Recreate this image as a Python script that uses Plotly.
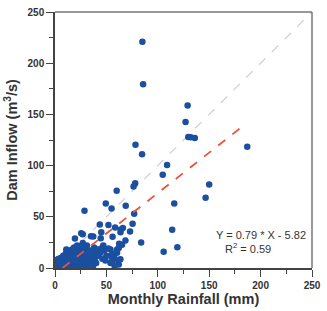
import plotly.graph_objects as go

# Monthly rainfall (mm) and dam inflow (m3/s)
rainfall = [85, 85.7, 129, 127, 129.6, 132, 136, 187, 78.3, 84.7, 109, 104.8, 78, 76.4, 150, 146.5,
            60, 116, 49.4, 68.8, 55, 28.7, 77, 75.5, 43.6, 52, 58.5, 64, 63.7, 73, 45, 27, 35, 56,
            114, 68.5, 83.8, 119, 105.7, 19.4, 62.4, 11.5, 49, 62,
            66, 65.2, 60.4, 46, 43, 40, 37, 57.3, 60, 54, 37.2, 44.5, 25.5, 27, 31, 11,
            62, 54, 60.4, 63.6, 55.6,
            0.5, 1, 1.5, 2, 2.5, 3, 3.5, 4, 4.5, 5, 5.5, 6, 6.5, 7, 7.5, 8, 8.5, 9, 9.5, 10, 10.5,
            11, 12, 12.5, 13, 13.5, 14, 14.5, 15, 15.5, 16, 16.5, 17, 17.5, 18, 18.5, 19, 19.5, 20,
            20.5, 21, 21.5, 22, 22.5, 23, 23.5, 24, 24.5, 25, 25.5, 26, 26.5, 27, 27.5, 28, 28.5, 29,
            29.5, 30, 30.5, 31, 32, 32.5, 33, 34, 34.5, 35, 36, 37, 38, 39, 40, 41, 42, 44, 46, 48,
            50, 52, 54, 56, 58, 47]
inflow = [221, 179.5, 158.7, 142.5, 128, 127.7, 127, 118.5, 120.4, 111, 100.5, 91, 82.8, 79.6, 81.5, 68.6,
          75.5, 63, 63, 60.7, 58, 56, 53, 43.3, 42.4, 42, 39.5, 37.6, 35, 35.7, 34.8, 33, 31, 30.5,
          37.3, 26.9, 25, 20.2, 15.8, 28.8, 23.7, 17.7, 7.3, 3.5,
          39, 22.8, 18, 20, 18, 16, 14, 11.7, 8, 12, 30.7, 29, 34, 24.4, 22, 18,
          19.6, 18, 15, 8.5, 7,
          1, 3, 6, 8, 2, 4, 9, 1, 5, 7, 3, 10, 2, 6, 4, 12, 1, 8, 5, 3, 14,
          7, 2, 10, 5, 16, 8, 3, 12, 6, 1, 18, 9, 4, 14, 20, 7, 2, 11,
          16, 5, 22, 9, 13, 3, 18, 7, 11, 21, 1, 15, 6, 10, 17, 4, 13, 8,
          2, 19, 11, 6, 14, 3, 9, 17, 5, 12, 8, 2, 20, 10, 5, 18, 12, 15, 9, 17,
          12, 19, 5, 14, 2, 22]

slope = 0.79
intercept = -5.82
fit_x = [7.4, 186]
one_to_one = [0, 250]

FONT = "Liberation Sans, Arial"

fig = go.Figure()
fig.add_trace(go.Scatter(x=one_to_one, y=one_to_one, mode="lines",
                         line=dict(color="#cfcfcf", width=1.2, dash="dash"), hoverinfo="skip"))
fig.add_trace(go.Scatter(x=rainfall, y=inflow, mode="markers",
                         marker=dict(color="#1b4f9f", size=6.5, line=dict(width=0))))
fig.add_trace(go.Scatter(x=fit_x, y=[slope * v + intercept for v in fit_x], mode="lines",
                         line=dict(color="#e8553a", width=1.8, dash="dash"), hoverinfo="skip"))

axis_common = dict(range=[0, 250], showgrid=False, zeroline=False, showline=True, mirror=False,
                   linecolor="#444", linewidth=1.5, ticks="outside", ticklen=7, tickwidth=1.3,
                   tickcolor="#444", tick0=0, dtick=50,
                   minor=dict(ticks="outside", ticklen=4, tickwidth=1.2, tickcolor="#444", dtick=25),
                   tickfont=dict(family=FONT, size=10, color="#333", weight="bold"))

fig.update_xaxes(**axis_common,
                 title=dict(text="Monthly Rainfall (mm)", standoff=4,
                            font=dict(family=FONT, size=14.5, color="#333", weight="bold")))
fig.update_yaxes(**axis_common,
                 title=dict(text="Dam Inflow (m<sup>3</sup>/s)", standoff=6,
                            font=dict(family=FONT, size=14.5, color="#333", weight="bold")))

# grey top and right frame
fig.add_shape(type="line", xref="paper", yref="paper", x0=0, x1=1, y0=1, y1=1,
              line=dict(color="#777", width=1.5))
fig.add_shape(type="line", xref="paper", yref="paper", x0=1, x1=1, y0=0, y1=1,
              line=dict(color="#777", width=1.5))

fig.add_annotation(x=0.985, y=0.13, xref="paper", yref="paper", xanchor="right", yanchor="middle",
                   text="Y = 0.79 * X - 5.82", showarrow=False,
                   font=dict(family=FONT, size=11, color="#333"))
fig.add_annotation(x=0.655, y=0.08, xref="paper", yref="paper", xanchor="left", yanchor="middle",
                   text="R<sup>2</sup> = 0.59", showarrow=False,
                   font=dict(family=FONT, size=11, color="#333"))

fig.update_layout(width=327, height=311, margin=dict(l=55, r=10, t=6, b=42),
                  paper_bgcolor="white", plot_bgcolor="white", showlegend=False)

fig.write_html("out.html")
